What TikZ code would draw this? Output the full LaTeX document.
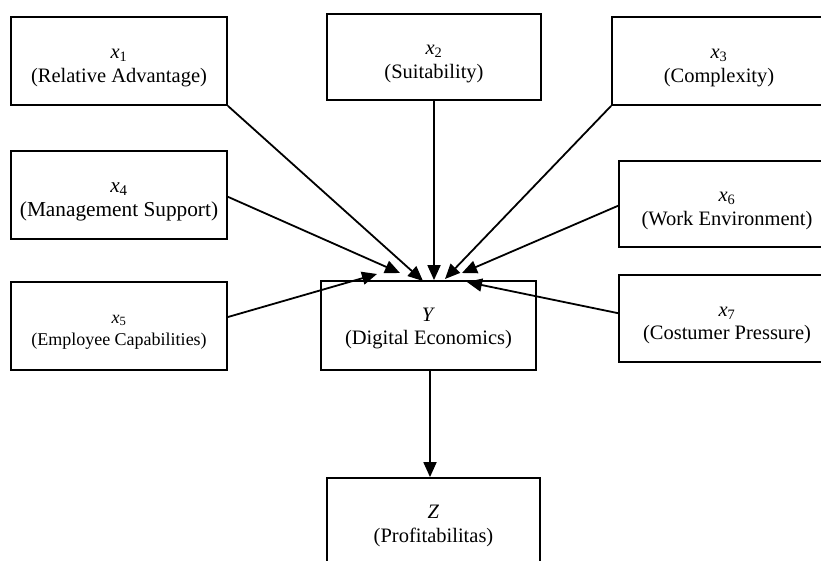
\documentclass[tikz,border=0pt]{standalone}
\usepackage{fontspec}
\setmainfont{Liberation Serif}
\usetikzlibrary{arrows.meta,calc}
\newcommand{\vsym}[2]{\textit{#1}\textsubscript{#2}}
\tikzset{
  box/.style={draw, line width=1.8pt, inner sep=0pt, align=center,
    font=\fontsize{20.5}{23.5}\selectfont, text height=47pt},
  arr/.style={line width=1.8pt, -{Triangle[length=15pt,width=13pt]}}
}
\begin{document}
\begin{tikzpicture}[x=1pt,y=-1pt]
\useasboundingbox (0,0) rectangle (821,560);
\clip (0,0) rectangle (821,560);
\fill[white] (0,0) rectangle (821,560);

\node[box,minimum width=216pt,minimum height=88pt] (x1) at (119,61) {\vsym{x}{1}\\(Relative Advantage)};
\node[box,minimum width=214pt,minimum height=86pt] (x2) at (434,57) {\vsym{x}{2}\\(Suitability)};
\node[box,minimum width=214pt,minimum height=88pt] (x3) at (719,61) {\vsym{x}{3}\\(Complexity)};
\node[box,minimum width=216pt,minimum height=88pt,font=\fontsize{21.3}{24}\selectfont,text height=48pt] (x4) at (119,195) {\vsym{x}{4}\\(Management Support)};
\node[box,minimum width=216pt,minimum height=88pt,font=\fontsize{18}{22}\selectfont,text height=42pt] (x5) at (119,326) {\vsym{x}{5}\\(Employee Capabilities)};
\node[box,minimum width=216pt,minimum height=86pt] (x6) at (727,204) {\vsym{x}{6}\\(Work Environment)};
\node[box,minimum width=216pt,minimum height=87pt] (x7) at (727,318.5) {\vsym{x}{7}\\(Costumer Pressure)};
\node[box,minimum width=215pt,minimum height=89pt,text height=43pt] (Y) at (428.5,325.5) {\textit{Y}\\(Digital Economics)};
\node[box,minimum width=213pt,minimum height=88pt,text height=45pt] (Z) at (433.5,522) {\textit{Z}\\(Profitabilitas)};

\coordinate (t1) at (423,281);
\coordinate (t3) at (445,279);
\coordinate (t4) at (400,273);
\coordinate (t5) at (377,274);
\coordinate (t6) at (462,273);
\coordinate (t7) at (467,282);
\coordinate (ys) at ($(Y.south)+(1.5,0)$);

\draw[arr] (x1.south east) -- (t1);
\draw[arr] (x2.south) -- (x2.south |- Y.north);
\draw[arr] (x3.south west) -- (t3);
\draw[arr] ($(x4.north east)!0.52!(x4.south east)$) -- (t4);
\draw[arr] ($(x5.north east)!0.4!(x5.south east)$) -- (t5);
\draw[arr] ($(x6.north west)!0.52!(x6.south west)$) -- (t6);
\draw[arr] ($(x7.north west)!0.44!(x7.south west)$) -- (t7);
\draw[arr] (ys) -- (ys |- Z.north);
\end{tikzpicture}
\end{document}
